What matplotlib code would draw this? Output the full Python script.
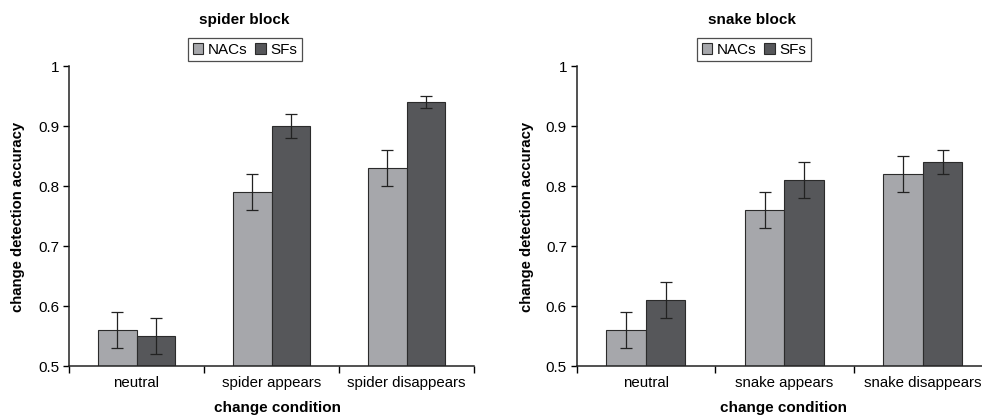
import numpy as np
import matplotlib.pyplot as plt
from matplotlib.patches import Patch

plt.rcParams['font.family'] = ['Liberation Sans', 'DejaVu Sans']

# === DATA ===
GROUPS = ['NACs', 'SFs']
SPIDER_COND = ['neutral', 'spider appears', 'spider disappears']
SPIDER_NAC = [0.56, 0.79, 0.83]
SPIDER_NAC_ERR = [0.03, 0.03, 0.03]
SPIDER_SF = [0.55, 0.90, 0.94]
SPIDER_SF_ERR = [0.03, 0.02, 0.01]

SNAKE_COND = ['neutral', 'snake appears', 'snake disappears']
SNAKE_NAC = [0.56, 0.76, 0.82]
SNAKE_NAC_ERR = [0.03, 0.03, 0.03]
SNAKE_SF = [0.61, 0.81, 0.84]
SNAKE_SF_ERR = [0.03, 0.03, 0.02]

COL_NAC = '#a6a7ab'
COL_SF = '#56575a'
EDGE = '#2b2b2b'
W = 39.4 / 138

fig = plt.figure(figsize=(9.82, 4.17), dpi=100)


def panel(rect, title, cond, nac, nac_err, sf, sf_err, title_x, leg_x, xlab_x, ylab_x):
    ax = fig.add_axes(rect)
    x = np.arange(len(cond)) + 0.5
    ekw = dict(ecolor='#222222', elinewidth=0.9, capsize=4, capthick=0.9)
    ax.bar(x - W / 2, nac, W, color=COL_NAC, edgecolor=EDGE, linewidth=0.8,
           yerr=nac_err, error_kw=ekw)
    ax.bar(x + W / 2, sf, W, color=COL_SF, edgecolor=EDGE, linewidth=0.8,
           yerr=sf_err, error_kw=ekw)
    ax.set_xlim(0, 3)
    ax.set_ylim(0.5, 1.0)
    ax.set_yticks([0.5, 0.6, 0.7, 0.8, 0.9, 1.0])
    ax.set_yticklabels(['0.5', '0.6', '0.7', '0.8', '0.9', '1'], fontsize=11)
    ax.set_xticks([0, 1, 2, 3])
    ax.set_xticklabels([])
    ax.set_xticks(x, minor=True)
    ax.set_xticklabels(cond, minor=True, fontsize=10.8)
    ax.tick_params(axis='x', which='minor', length=0, pad=7)
    ax.tick_params(axis='x', which='major', length=5, width=1, direction='out')
    ax.tick_params(axis='y', length=4, width=1, direction='out', pad=3)
    for s in ['top', 'right']:
        ax.spines[s].set_visible(False)
    for s in ['left', 'bottom']:
        ax.spines[s].set_linewidth(1.1)
        ax.spines[s].set_color('#222222')

    fig.text(title_x, 1 - 20 / 417, title, ha='center', va='center', fontsize=11, fontweight='bold')
    fig.text(xlab_x, 1 - 408 / 417, 'change condition', ha='center', va='center',
             fontsize=11, fontweight='bold')
    fig.text(ylab_x, 1 - 217 / 417, 'change detection accuracy', ha='center', va='center',
             rotation=90, fontsize=10.7, fontweight='bold')

    handles = [Patch(facecolor=COL_NAC, edgecolor=EDGE, linewidth=0.8),
               Patch(facecolor=COL_SF, edgecolor=EDGE, linewidth=0.8)]
    leg = fig.legend(handles, GROUPS, loc='center', bbox_to_anchor=(leg_x, 1 - 49.5 / 417),
                     ncol=2, fontsize=11, frameon=True, fancybox=False, handlelength=0.7,
                     handleheight=0.7, handletextpad=0.3, columnspacing=0.5, borderpad=0.3,
                     borderaxespad=0)
    leg.get_frame().set_edgecolor('#222222')
    leg.get_frame().set_linewidth(0.9)
    return ax


panel([69 / 982, 51 / 417, 405 / 982, 300 / 417], 'spider block', SPIDER_COND,
      SPIDER_NAC, SPIDER_NAC_ERR, SPIDER_SF, SPIDER_SF_ERR,
      244 / 982, 245 / 982, 277 / 982, 18 / 982)
panel([576.7 / 982, 51 / 417, 415.5 / 982, 300 / 417], 'snake block', SNAKE_COND,
      SNAKE_NAC, SNAKE_NAC_ERR, SNAKE_SF, SNAKE_SF_ERR,
      752 / 982, 754 / 982, 784 / 982, 527 / 982)

fig.savefig('out.png', dpi=100)
